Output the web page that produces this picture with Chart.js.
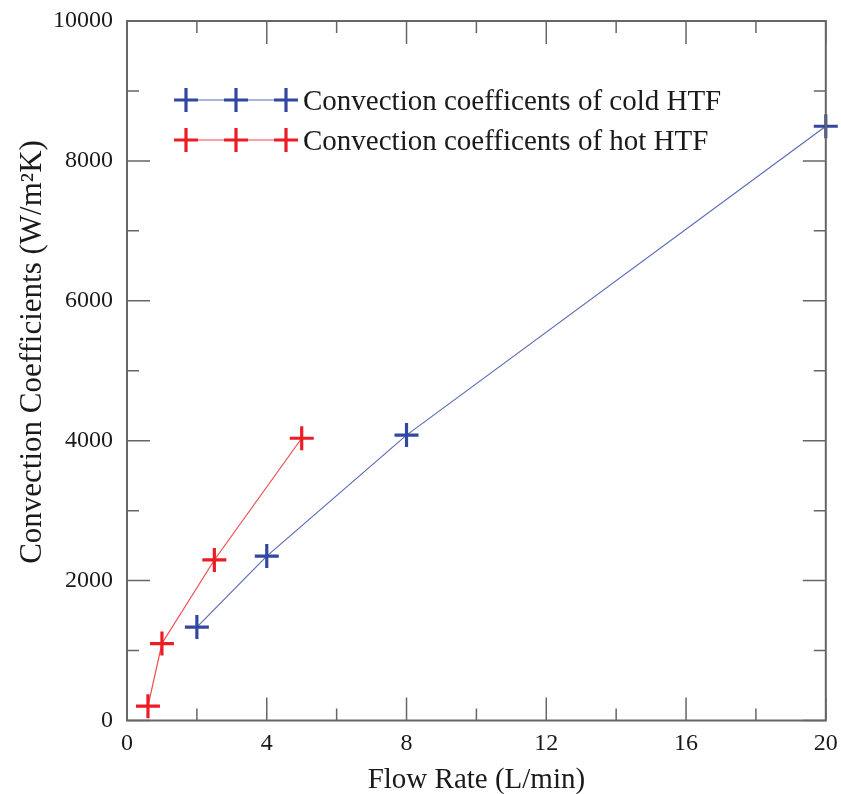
<!DOCTYPE html>
<html>
<head>
<meta charset="utf-8">
<script src="https://cdn.jsdelivr.net/npm/chart.js@4/dist/chart.umd.min.js"></script>
<style>
  html, body { margin: 0; padding: 0; background: #fff; }
  #wrap { width: 841px; height: 794px; }
</style>
</head>
<body>
<div id="wrap"><canvas id="chart" width="841" height="794"></canvas></div>
<script>
// ================= DATA =================
const coldFlow = [2, 4, 8, 20];
const coldCoef = [1335, 2350, 4080, 8495];
const hotFlow = [0.6, 1, 2.5, 5];
const hotCoef = [205, 1100, 2295, 4035];

const xMajor = [0, 4, 8, 12, 16, 20];
const xMinor = [2, 6, 10, 14, 18];
const yMajor = [0, 2000, 4000, 6000, 8000, 10000];
const yMinor = [1000, 3000, 5000, 7000, 9000];

const legendLabels = ["Convection coefficents of cold HTF", "Convection coefficents of hot HTF"];
const xTitle = 'Flow Rate (L/min)';
const yTitle = 'Convection Coefficients (W/m\u00B2K)';

const BLUE = '#3347a0';
const BLUE_LINE = '#5b6cb9';
const RED = '#ec1c24';
const RED_LINE = '#f04a4f';
const AXIS = '#666666';
const TEXT = '#1a1a1a';
const FONT = "'Liberation Serif', 'Times New Roman', serif";

// ================= FRAME + INWARD TICKS =================
const frameTicks = {
  id: 'frameTicks',
  afterDatasetsDraw(chart) {
    const {ctx, chartArea: a, scales: {x, y}} = chart;
    ctx.save();
    ctx.strokeStyle = AXIS;
    ctx.lineWidth = 1.5;
    ctx.beginPath();
    xMajor.forEach(v => {
      const px = x.getPixelForValue(v);
      ctx.moveTo(px, a.bottom); ctx.lineTo(px, a.bottom - 23);
      ctx.moveTo(px, a.top); ctx.lineTo(px, a.top + 23);
    });
    xMinor.forEach(v => {
      const px = x.getPixelForValue(v);
      ctx.moveTo(px, a.bottom); ctx.lineTo(px, a.bottom - 12);
      ctx.moveTo(px, a.top); ctx.lineTo(px, a.top + 12);
    });
    yMajor.forEach(v => {
      const py = y.getPixelForValue(v);
      ctx.moveTo(a.left, py); ctx.lineTo(a.left + 23, py);
      ctx.moveTo(a.right, py); ctx.lineTo(a.right - 23, py);
    });
    yMinor.forEach(v => {
      const py = y.getPixelForValue(v);
      ctx.moveTo(a.left, py); ctx.lineTo(a.left + 12, py);
      ctx.moveTo(a.right, py); ctx.lineTo(a.right - 12, py);
    });
    ctx.stroke();

    ctx.lineWidth = 2;
    ctx.strokeRect(a.left, a.top, a.right - a.left, a.bottom - a.top);
    ctx.restore();
  }
};

// ================= LEGEND + Y TITLE =================
function drawCross(ctx, cx, cy, r) {
  ctx.beginPath();
  ctx.moveTo(cx - r, cy); ctx.lineTo(cx + r, cy);
  ctx.moveTo(cx, cy - r); ctx.lineTo(cx, cy + r);
  ctx.stroke();
}

const legendBox = {
  id: 'legendBox',
  afterDraw(chart) {
    const ctx = chart.ctx;
    const rows = [
      {y: 100, mark: BLUE, line: BLUE_LINE, text: legendLabels[0]},
      {y: 140, mark: RED, line: RED_LINE, text: legendLabels[1]}
    ];
    ctx.save();
    rows.forEach(r => {
      ctx.strokeStyle = r.line;
      ctx.lineWidth = 1.2;
      ctx.beginPath();
      ctx.moveTo(186, r.y); ctx.lineTo(286, r.y);
      ctx.stroke();
      ctx.strokeStyle = r.mark;
      ctx.lineWidth = 3.2;
      [186, 236, 286].forEach(cx => drawCross(ctx, cx, r.y, 12));
      ctx.fillStyle = TEXT;
      ctx.font = "29px " + FONT;
      ctx.textBaseline = 'middle';
      ctx.fillText(r.text, 303, r.y + 2);
    });

    // y axis title, rotated
    ctx.translate(31, 352);
    ctx.rotate(-Math.PI / 2);
    ctx.font = "31px " + FONT;
    ctx.textAlign = 'center';
    ctx.textBaseline = 'middle';
    ctx.fillText(yTitle, 0, 2);
    ctx.restore();
  }
};

// ================= CHART =================
const ctx = document.getElementById('chart');

new Chart(ctx, {
  type: 'scatter',
  data: {
    datasets: [
      {
        label: legendLabels[0],
        data: coldFlow.map((f, i) => ({x: f, y: coldCoef[i]})),
        showLine: true,
        clip: 20,
        borderColor: BLUE_LINE,
        borderWidth: 1.2,
        pointStyle: 'cross',
        pointRadius: 12,
        pointBorderWidth: 3.2,
        pointBorderColor: BLUE,
        pointBackgroundColor: BLUE,
        tension: 0
      },
      {
        label: legendLabels[1],
        data: hotFlow.map((f, i) => ({x: f, y: hotCoef[i]})),
        showLine: true,
        clip: 20,
        borderColor: RED_LINE,
        borderWidth: 1.2,
        pointStyle: 'cross',
        pointRadius: 12,
        pointBorderWidth: 3.2,
        pointBorderColor: RED,
        pointBackgroundColor: RED,
        tension: 0
      }
    ]
  },
  options: {
    responsive: false,
    animation: false,
    layout: { padding: { left: 0, right: 14, top: 21, bottom: 0 } },
    plugins: {
      legend: { display: false },
      tooltip: { enabled: false }
    },
    scales: {
      x: {
        type: 'linear',
        min: 0, max: 20,
        afterFit: s => { s.height = 73.5; s.paddingLeft = 0; s.paddingRight = 0; },
        grid: { display: false, drawTicks: false },
        border: { display: false },
        ticks: {
          stepSize: 4,
          padding: 9,
          color: TEXT,
          font: { family: FONT, size: 24 },
          maxRotation: 0,
          callback: v => String(v)
        },
        title: {
          display: true,
          text: xTitle,
          color: TEXT,
          font: { family: FONT, size: 29, lineHeight: 0.8 },
          padding: { top: 0, bottom: 2 }
        }
      },
      y: {
        type: 'linear',
        min: 0, max: 10000,
        afterFit: s => { s.width = 127; s.paddingTop = 0; s.paddingBottom = 0; },
        grid: { display: false, drawTicks: false },
        border: { display: false },
        ticks: {
          stepSize: 2000,
          padding: 14,
          color: TEXT,
          font: { family: FONT, size: 24 },
          callback: v => String(v)
        }
      }
    }
  },
  plugins: [frameTicks, legendBox]
});
</script>
</body>
</html>
